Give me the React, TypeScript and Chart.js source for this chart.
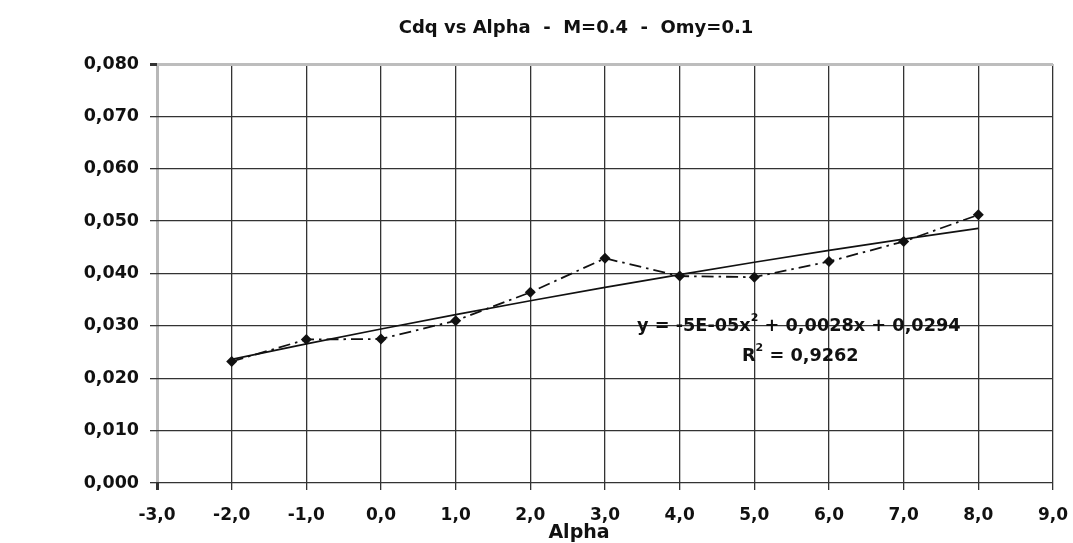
import { useEffect, useRef } from "react";
import { Chart, registerables } from "chart.js";

Chart.register(...registerables);

// Measured drag coefficient Cdq against angle of attack
const alpha = [-2, -1, 0, 1, 2, 3, 4, 5, 6, 7, 8];
const cdq = [0.0232, 0.0274, 0.0275, 0.031, 0.0364, 0.0429, 0.0395, 0.0393, 0.0423, 0.0461, 0.0512];

// Second-order polynomial trend: y = a*x^2 + b*x + c
const fitA = -5e-5;
const fitB = 0.0028;
const fitC = 0.0294;
const fitR2 = 0.9262;

const xMin = -3;
const xMax = 9;
const yMin = 0;
const yMax = 0.08;

const TITLE = "Cdq vs Alpha  -  M=0.4  -  Omy=0.1";
const X_TITLE = "Alpha";

const FONT = "'DejaVu Sans', 'Liberation Sans', sans-serif";

const trend = alpha.map((a) => ({ x: a, y: fitA * a * a + fitB * a + fitC }));
const points = alpha.map((a, i) => ({ x: a, y: cdq[i] }));

const comma = (v: number, d: number) => v.toFixed(d).replace(".", ",");
const sci = (v: number) => {
  const [m, e] = v.toExponential(0).split("e");
  const n = parseInt(e, 10);
  return `${m.toUpperCase()}E${n < 0 ? "-" : "+"}${String(Math.abs(n)).padStart(2, "0")}`;
};

type Part = { t: string; sup?: boolean };

function drawRich(ctx: CanvasRenderingContext2D, parts: Part[], x: number, y: number, size: number) {
  let cx = x;
  for (const p of parts) {
    if (p.sup) {
      ctx.font = `bold ${Math.round(size * 0.62)}px ${FONT}`;
      ctx.fillText(p.t, cx, y - size * 0.42);
    } else {
      ctx.font = `bold ${size}px ${FONT}`;
      ctx.fillText(p.t, cx, y);
    }
    cx += ctx.measureText(p.t).width;
  }
}

const captions = {
  id: "captions",
  afterDraw(chart: Chart) {
    const ctx = chart.ctx;
    ctx.save();
    ctx.fillStyle = "#111";
    ctx.textBaseline = "middle";
    ctx.textAlign = "center";
    ctx.font = `bold 18px ${FONT}`;
    ctx.fillText(TITLE, 576, 28);
    ctx.font = `bold 19px ${FONT}`;
    ctx.fillText(X_TITLE, 579, 533);

    ctx.textAlign = "left";
    const eq: Part[] = [
      { t: `y = ${sci(fitA)}x` },
      { t: "2", sup: true },
      { t: ` + ${comma(fitB, 4)}x + ${comma(fitC, 4)}` },
    ];
    drawRich(ctx, eq, 637, 326, 17.7);
    const r2: Part[] = [{ t: "R" }, { t: "2", sup: true }, { t: ` = ${comma(fitR2, 4)}` }];
    drawRich(ctx, r2, 742, 356, 17.7);
    ctx.restore();
  },
};

export default function App() {
  const ref = useRef<HTMLCanvasElement | null>(null);

  useEffect(() => {
    document.body.style.margin = "0";
    const canvas = ref.current;
    if (!canvas) return;
    const chart = new Chart(canvas, {
      type: "scatter",
      data: {
        datasets: [
          {
            label: "Cdq",
            data: points,
            showLine: true,
            borderColor: "#111",
            backgroundColor: "#111",
            borderWidth: 1.8,
            borderDash: [12, 5, 2.5, 5],
            pointStyle: "rectRot",
            pointRadius: 5.5,
            pointBorderWidth: 0,
          },
          {
            label: "Trend",
            data: trend,
            showLine: true,
            borderColor: "#111",
            borderWidth: 1.7,
            pointRadius: 0,
          },
        ],
      },
      options: {
        responsive: false,
        animation: false,
        devicePixelRatio: 1,
        layout: { padding: { top: 64, right: 20, left: 0, bottom: 0 } },
        plugins: {
          legend: { display: false },
          tooltip: { enabled: false },
          title: { display: false },
        },
        scales: {
          x: {
            type: "linear",
            min: xMin,
            max: xMax,
            afterFit: (s: any) => {
              s.height = 60;
              s.paddingLeft = 0;
              s.paddingRight = 0;
            },
            ticks: {
              stepSize: 1,
              color: "#111",
              padding: 15,
              maxRotation: 0,
              font: { family: FONT, size: 17, weight: "bold" },
              callback: (v: any) => comma(Number(v), 1),
            },
            grid: {
              color: (c: any) => (c.tick && c.tick.value === xMin ? "#b8b8b8" : "#333"),
              lineWidth: (c: any) => (c.tick && c.tick.value === xMin ? 3 : 1.3),
              tickLength: 7,
              tickColor: "#333",
            },
            border: { display: false },
          },
          y: {
            min: yMin,
            max: yMax,
            afterFit: (s: any) => {
              s.width = 157;
            },
            ticks: {
              stepSize: 0.01,
              color: "#111",
              padding: 11,
              font: { family: FONT, size: 17.5, weight: "bold" },
              callback: (v: any) => comma(Number(v), 3),
            },
            grid: {
              color: (c: any) => (c.tick && Math.abs(c.tick.value - yMax) < 1e-9 ? "#bdbdbd" : "#333"),
              lineWidth: (c: any) => (c.tick && Math.abs(c.tick.value - yMax) < 1e-9 ? 3 : 1.3),
              tickLength: 7,
              tickColor: "#333",
            },
            border: { display: false },
          },
        },
      },
      plugins: [captions],
    });
    return () => chart.destroy();
  }, []);

  return <canvas ref={ref} width={1073} height={543} style={{ display: "block" }} />;
}
